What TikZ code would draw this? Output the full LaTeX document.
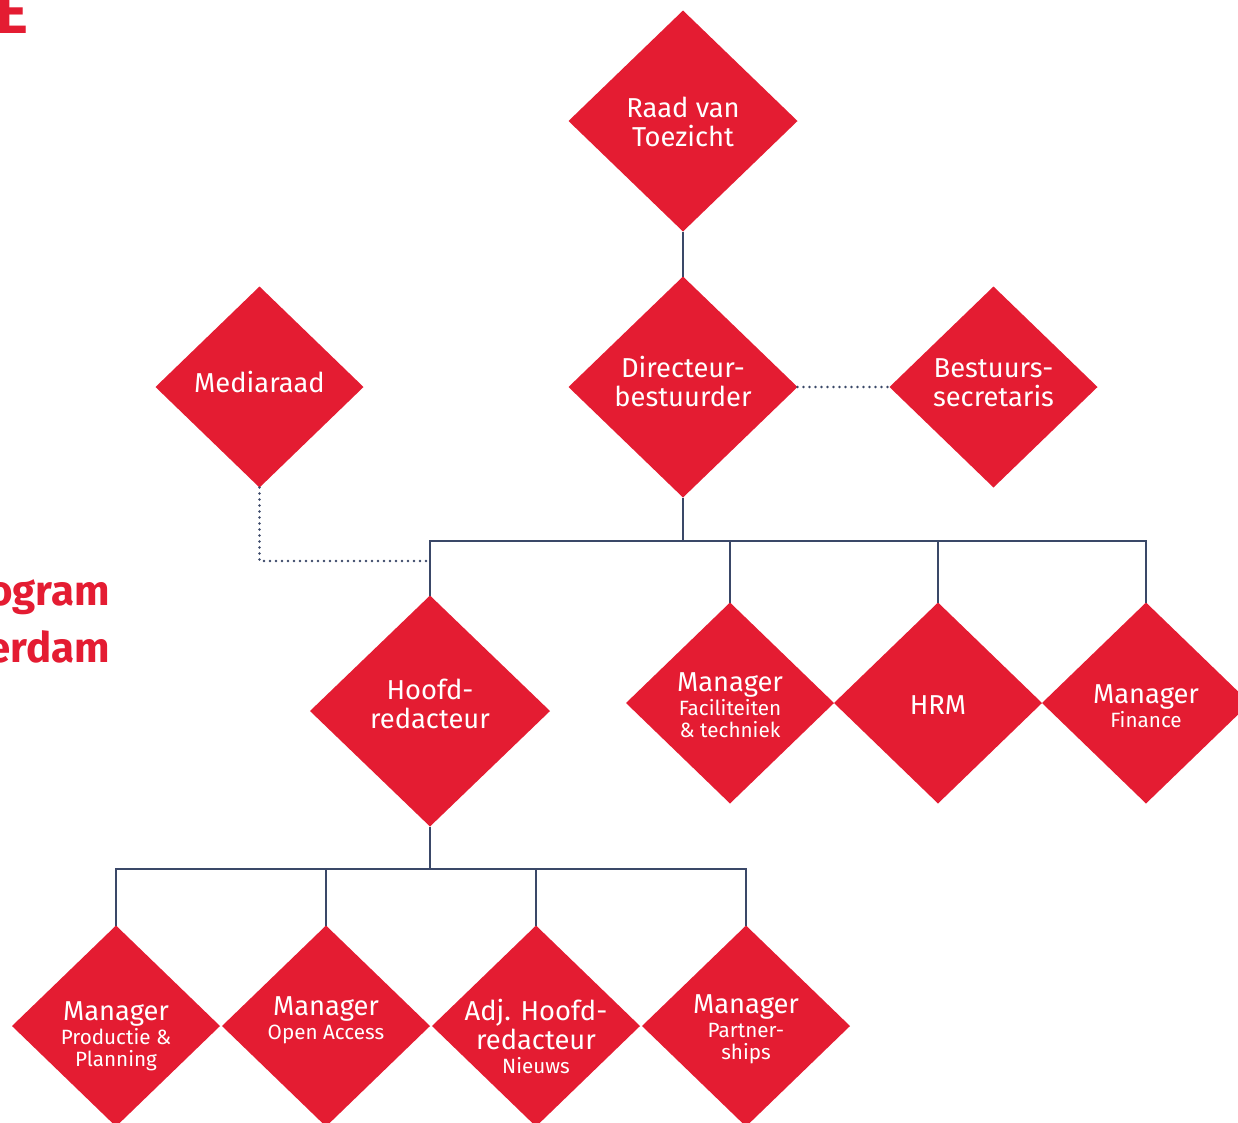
\documentclass[tikz,border=0pt]{standalone}
\usepackage{fontspec}
\setmainfont{Fira Sans}
\usetikzlibrary{shapes.geometric,positioning}

\definecolor{orgrood}{HTML}{E41C32}
\definecolor{lijnblauw}{HTML}{3A4868}

\newcommand{\groot}{\fontsize{20.5}{21.75}\selectfont}
\newcommand{\klein}{\fontsize{15.5}{16.5}\selectfont}

\tikzset{
	ruit/.style={diamond, fill=orgrood, inner sep=0pt, outer sep=0pt,
		minimum width=156pt, minimum height=150.75pt},
	grootruit/.style={ruit, minimum width=171.75pt, minimum height=165.75pt},
	hoofdruit/.style={ruit, minimum width=180pt, minimum height=173.25pt},
	tekst/.style={text=white, align=center, font=\groot, inner sep=0pt},
	lijn/.style={draw=lijnblauw, line width=1.9pt},
	stip/.style={draw=lijnblauw, line width=2pt, line cap=round, dash pattern=on 0pt off 4.5pt},
	titel/.style={text=orgrood, font=\fontsize{31.5}{38}\selectfont\bfseries, inner sep=0pt},
}

\begin{document}
\begin{tikzpicture}[x=0.75pt, y=-0.75pt]
	\useasboundingbox (0,0) rectangle (1238,1122);

	% titel (afgesneden)
	\node[titel, font=\fontsize{47}{50}\selectfont\bfseries, anchor=base east] (titelE) at (29,33) {E};
	\node[titel, anchor=base east] (titel1) at (110,605) {ogram};
	\node[titel, anchor=base east] (titel2) at (110,662) {erdam};

	% bovenste lagen
	\node[grootruit, label={[tekst, yshift=-0.75pt]center:Raad van\\Toezicht}] (raad) at (683,121) {};
	\node[grootruit, below=33.75pt of raad, label={[tekst, yshift=4.5pt]center:Directeur-\\bestuurder}] (dir) {};
	\node[ruit, right=69pt of dir, label={[tekst, yshift=3pt]center:Bestuurs-\\secretaris}] (secr) {};
	\node[ruit, left=153.75pt of dir, label={[tekst, yshift=3.75pt]center:Mediaraad}] (media) {};

	% middelste laag
	\node[hoofdruit, label={[tekst, yshift=5.25pt]center:Hoofd-\\redacteur}] (hoofd) at (430,711) {};
	\node[ruit, label={[tekst, yshift=-1.9pt]center:Manager\\[-3.75pt]\klein Faciliteiten\\[-5.25pt]\klein \& techniek}] (facil) at (730,703) {};
	\node[ruit, right=0pt of facil, label={[tekst, yshift=-1.5pt]center:HRM}] (hrm) {};
	\node[ruit, right=0pt of hrm, label={[tekst, yshift=-2.25pt]center:Manager\\[-3.75pt]\klein Finance}] (finance) {};

	% onderste laag
	\node[ruit, label={[tekst, yshift=-7.5pt]center:Manager\\[-3.75pt]\klein Productie \&\\[-5.25pt]\klein Planning}] (prod) at (116,1026) {};
	\node[ruit, right=1.5pt of prod, label={[tekst, yshift=4.5pt]center:Manager\\[-3.75pt]\klein Open Access}] (open) {};
	\node[ruit, right=1.5pt of open, label={[tekst, yshift=-7.5pt]center:Adj. Hoofd-\\redacteur\\[-3.75pt]\klein Nieuws}] (adj) {};
	\node[ruit, right=1.5pt of adj, label={[tekst, yshift=-2.25pt]center:Manager\\[-3.75pt]\klein Partner-\\[-5.25pt]\klein ships}] (partner) {};

	\coordinate (rail) at (683,541);
	\coordinate (rail2) at (430,869);
	\coordinate (mediarail) at (259,561);

	% verbindingen
	\draw[lijn] (raad.south) -- (dir.north);
	\draw[lijn] (dir.south) -- (rail);
	\draw[lijn] (hoofd.north) |- (finance.north |- rail) -- (finance.north);
	\foreach \n in {facil,hrm}
		\draw[lijn] (\n.north) -- (\n.north |- rail);
	\draw[stip] (dir.east) -- (secr.west);
	\draw[stip] (media.south) |- (hoofd.north |- mediarail);

	\draw[lijn] (hoofd.south) -- (rail2);
	\draw[lijn] (prod.north) |- (partner.north |- rail2) -- (partner.north);
	\foreach \n in {open,adj}
		\draw[lijn] (\n.north) -- (\n.north |- rail2);
\end{tikzpicture}
\end{document}
